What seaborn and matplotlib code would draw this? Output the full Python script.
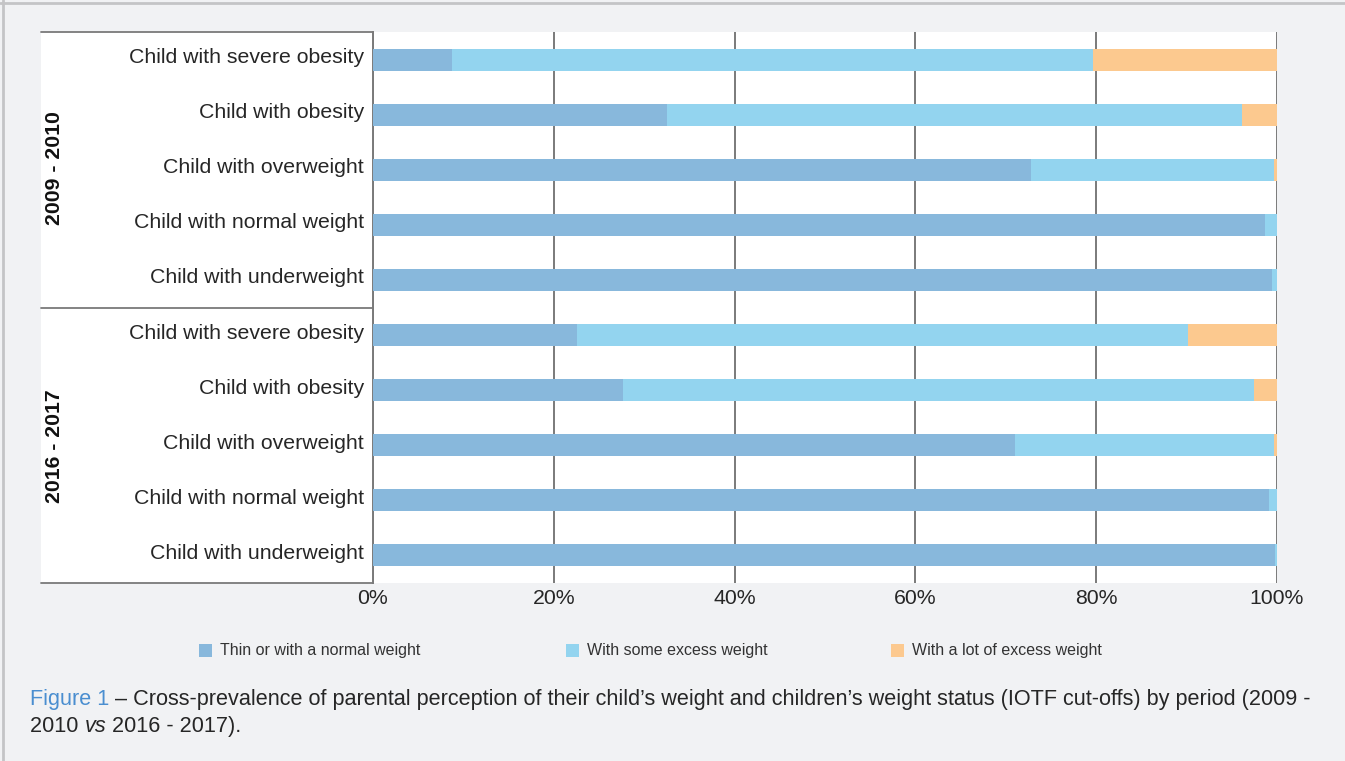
import pandas as pd
import matplotlib
matplotlib.use('Agg')
import matplotlib.pyplot as plt
import matplotlib.transforms as mtransforms
from matplotlib.patches import Rectangle
from matplotlib.lines import Line2D
import seaborn as sns

# ==================== 数据 ====================
periods = ['2009 - 2010', '2016 - 2017']
weight_status = ['Child with severe obesity', 'Child with obesity', 'Child with overweight',
                 'Child with normal weight', 'Child with underweight']
series_names = ['Thin or with a normal weight', 'With some excess weight', 'With a lot of excess weight']

thin_2009 = [8.7, 32.5, 72.8, 98.7, 99.4]
some_2009 = [70.9, 63.6, 26.9, 1.3, 0.6]
lot_2009 = [20.4, 3.9, 0.3, 0.0, 0.0]

thin_2016 = [22.6, 27.6, 71.0, 99.1, 99.8]
some_2016 = [67.6, 69.9, 28.7, 0.9, 0.2]
lot_2016 = [9.8, 2.5, 0.3, 0.0, 0.0]

x_ticks = [0, 20, 40, 60, 80, 100]
x_ticklabels = ['0%', '20%', '40%', '60%', '80%', '100%']

colors = ['#88b8dc', '#93d4ef', '#fcc98f']
text_col = '#262626'
line_col = '#7a7a7a'

# ==================== 整理 ====================
rows = []
for p, thin, some, lot in [(periods[0], thin_2009, some_2009, lot_2009),
                           (periods[1], thin_2016, some_2016, lot_2016)]:
    for s, a, b, c in zip(weight_status, thin, some, lot):
        rows.append({'key': p + '|' + s, 'status': s, 'thin': a, 'some': b, 'lot': c})
df = pd.DataFrame(rows)
df['cum1'] = df['thin']
df['cum2'] = df['thin'] + df['some']
df['cum3'] = df['cum2'] + df['lot']

# ==================== 绘图 ====================
sns.set_theme(style='white')
plt.rcParams['font.family'] = ['Liberation Sans', 'DejaVu Sans']

W, H = 1345, 761
fig = plt.figure(figsize=(W / 100, H / 100), dpi=100, facecolor='#f1f2f4')

def fx(px):
    return px / W

def fy(py):
    return 1 - py / H

# 标签区白色底框
fig.patches.append(Rectangle((fx(41), fy(583)), fx(373) - fx(41), fy(32) - fy(583),
                             transform=fig.transFigure, facecolor='white', edgecolor='none', zorder=-1))
for yy in [32, 308, 583]:
    fig.lines.append(Line2D([fx(41), fx(373)], [fy(yy), fy(yy)], transform=fig.transFigure,
                            color=line_col, lw=1.3, zorder=1))
# 外框（上、左）
fig.lines.append(Line2D([0, 1], [fy(2.5), fy(2.5)], transform=fig.transFigure, color='#c4c4c6', lw=2))
fig.lines.append(Line2D([fx(2.5), fx(2.5)], [0, 1], transform=fig.transFigure, color='#c4c4c6', lw=2))

ax = fig.add_axes([fx(373), fy(583), fx(1277) - fx(373), fy(32) - fy(583)])
ax.set_facecolor('white')

for col, c in [('cum3', colors[2]), ('cum2', colors[1]), ('cum1', colors[0])]:
    sns.barplot(data=df, x=col, y='key', orient='h', color=c, width=0.4,
                saturation=1, edgecolor='none', ax=ax, zorder=3)

ax.set_xlim(0, 100)
ax.set_ylim(len(df) - 0.5, -0.5)
ax.set_xticks(x_ticks)
ax.set_xticklabels(x_ticklabels, fontsize=15.3, color=text_col)
ax.set_yticks(range(len(df)))
ax.set_yticklabels(df['status'], fontsize=15.3, color=text_col)
ax.tick_params(axis='both', length=0)
ax.tick_params(axis='x', pad=4)
ax.tick_params(axis='y', pad=6.5)
ax.set_xlabel('')
ax.set_ylabel('')
ax.grid(axis='x', color=line_col, lw=1.4, zorder=1)
ax.grid(axis='y', visible=False)
ax.set_axisbelow(True)
for side in ['top', 'right', 'bottom']:
    ax.spines[side].set_visible(False)
ax.spines['left'].set_color(line_col)
ax.spines['left'].set_linewidth(1.4)

# 行标签略高于柱子中心
shift = mtransforms.ScaledTranslation(0, 4 / 100, fig.dpi_scale_trans)
for lab in ax.get_yticklabels():
    lab.set_transform(lab.get_transform() + shift)

# 分组标签
fig.text(fx(55), fy(168), periods[0], rotation=90, ha='center', va='center',
         fontsize=15.3, fontweight='bold', color='#111111')
fig.text(fx(55), fy(446), periods[1], rotation=90, ha='center', va='center',
         fontsize=15.3, fontweight='bold', color='#111111')

# 图例
for xp, name, c in zip([199, 566, 891], series_names, colors):
    fig.patches.append(Rectangle((fx(xp), fy(657)), fx(13), fy(644) - fy(657),
                                 transform=fig.transFigure, facecolor=c, edgecolor='none'))
    fig.text(fx(xp + 21), fy(651), name, ha='left', va='center', fontsize=11.5, color='#333333')

# 图注（分段排版）
fig.canvas.draw()
renderer = fig.canvas.get_renderer()

def put_run(x_px, y_px, parts):
    x = x_px
    for s, kw in parts:
        t = fig.text(fx(x), fy(y_px), s, ha='left', va='baseline', fontsize=15.6, **kw)
        bb = t.get_window_extent(renderer=renderer)
        x += bb.width

put_run(30, 705, [('Figure 1', {'color': '#4a8ed0'}),
                  (' \u2013 Cross-prevalence of parental perception of their child\u2019s weight and '
                   'children\u2019s weight status (IOTF cut-offs) by period (2009 -', {'color': text_col})])
put_run(30, 732, [('2010 ', {'color': text_col}),
                  ('vs', {'color': text_col, 'style': 'italic'}),
                  (' 2016 - 2017).', {'color': text_col})])

plt.savefig('out.png', dpi=100, facecolor=fig.get_facecolor())
